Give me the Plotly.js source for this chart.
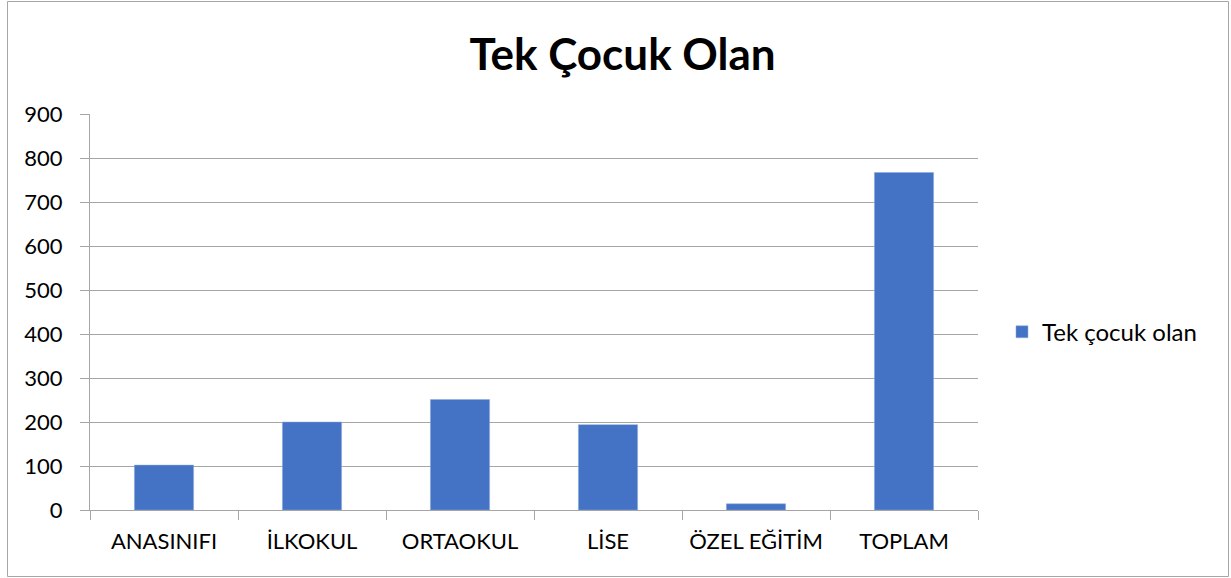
<!DOCTYPE html>
<html>
<head>
<meta charset="utf-8">
<script src="https://cdn.plot.ly/plotly-3.0.1.min.js"></script>
<style>html,body{margin:0;padding:0;background:#fff;}#chart{width:1231px;height:578px;}</style>
</head>
<body>
<div id="chart"></div>
<script>
const categories = ["ANASINIFI", "İLKOKUL", "ORTAOKUL", "LİSE", "ÖZEL EĞİTİM", "TOPLAM"];
const values = [102, 200, 251, 194, 14, 767];
const seriesName = "Tek çocuk olan";
const chartTitle = "Tek Çocuk Olan";
const yTicks = [0, 100, 200, 300, 400, 500, 600, 700, 800, 900];

const FONT = "Lato, 'Open Sans', sans-serif";
const gridColor = "#a6a6a6";

const trace = {
  type: "bar",
  x: categories,
  y: values,
  name: seriesName,
  marker: {color: "#4472C4", line: {color: "#8eaadb", width: 0.5}},
  showlegend: true,
  hoverinfo: "x+y"
};

const layout = {
  width: 1231,
  height: 578,
  margin: {l: 90, r: 253, t: 114, b: 68, pad: 0},
  paper_bgcolor: "#ffffff",
  plot_bgcolor: "#ffffff",
  font: {family: FONT, size: 22, color: "#000000"},
  title: {
    text: chartTitle,
    font: {family: FONT, size: 44, color: "#000000", weight: "bold"},
    xref: "container", x: 0.5057, xanchor: "center",
    yref: "container", y: 0.905, yanchor: "middle"
  },
  bargap: 0.6,
  xaxis: {
    type: "category",
    showline: true, linecolor: gridColor, linewidth: 1,
    ticks: "outside", tickson: "boundaries", ticklen: 9, tickcolor: gridColor, tickwidth: 1,
    showgrid: false, zeroline: false,
    tickfont: {family: FONT, size: 22, color: "#000"},
    ticklabelstandoff: 12,
    fixedrange: true
  },
  yaxis: {
    range: [0, 900],
    tickvals: yTicks,
    ticktext: yTicks.map(String),
    showline: true, linecolor: gridColor, linewidth: 1,
    ticks: "outside", ticklen: 9, tickcolor: gridColor, tickwidth: 1,
    showgrid: true, gridcolor: gridColor, gridwidth: 1,
    zeroline: false,
    tickfont: {family: FONT, size: 22, color: "#000"},
    ticklabelstandoff: 13,
    fixedrange: true
  },
  legend: {
    x: 1.027, xanchor: "left", xref: "paper",
    y: 0.449, yanchor: "middle",
    font: {family: FONT, size: 24, color: "#000"},
    bgcolor: "rgba(0,0,0,0)", borderwidth: 0
  },
  shapes: [{
    type: "rect", xref: "paper", yref: "paper",
    x0: (7.5 - 90) / 888, x1: (1228.5 - 90) / 888,
    y0: (510 - 576.5) / 396, y1: (510 - 1.5) / 396,
    line: {color: "#a6a6a6", width: 1}, fillcolor: "rgba(0,0,0,0)", layer: "below"
  }]
};

Plotly.newPlot("chart", [trace], layout, {displayModeBar: false, staticPlot: true});
</script>
</body>
</html>
